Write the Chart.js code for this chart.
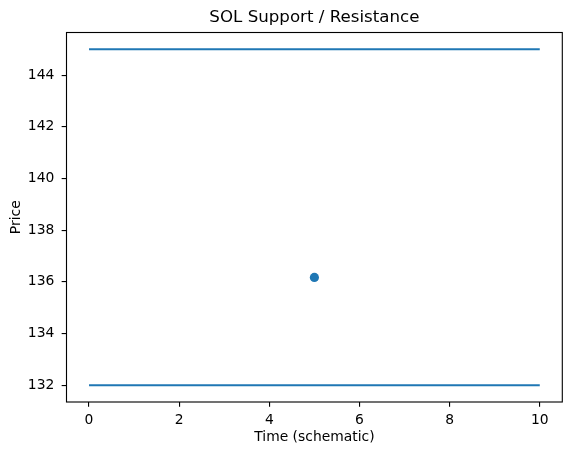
<!DOCTYPE html>
<html>
<head>
<meta charset="utf-8">
<script src="https://cdn.jsdelivr.net/npm/chart.js@4"></script>
<style>
  html, body { margin: 0; padding: 0; background: #fff; }
  #wrap { width: 571px; height: 455px; }
</style>
</head>
<body>
<div id="wrap"><canvas id="c" width="571" height="455"></canvas></div>
<script>
// ---- data ----
const lineX = [0, 10];
const resistance = [145, 145];
const support = [132, 132];
const pointX = [5];
const pointY = [136.17];
const xTicks = [0, 2, 4, 6, 8, 10];
const yTicks = [132, 134, 136, 138, 140, 142, 144];
const xLimits = [-0.5, 10.5];
const yLimits = [131.35, 145.65];

const BLUE = '#1f77b4';
const FONT = 'DejaVu Sans';

const toPts = (xs, ys) => xs.map((x, i) => ({ x: x, y: ys[i] }));

const framePlugin = {
  id: 'frame',
  afterDatasetsDraw(chart) {
    const a = chart.chartArea, ctx = chart.ctx;
    ctx.save();
    ctx.strokeStyle = '#000';
    ctx.lineWidth = 1.11;
    ctx.strokeRect(a.left, a.top, a.right - a.left, a.bottom - a.top);
    ctx.restore();
  }
};

new Chart(document.getElementById('c'), {
  type: 'scatter',
  data: {
    datasets: [
      { data: toPts(lineX, resistance), showLine: true, borderColor: BLUE, borderWidth: 2.08,
        pointRadius: 0, pointHoverRadius: 0, fill: false, order: 3 },
      { data: toPts(lineX, support), showLine: true, borderColor: BLUE, borderWidth: 2.08,
        pointRadius: 0, pointHoverRadius: 0, fill: false, order: 2 },
      { data: toPts(pointX, pointY), showLine: false, backgroundColor: BLUE, borderColor: BLUE,
        borderWidth: 0, pointRadius: 4.6, order: 1 }
    ]
  },
  options: {
    responsive: false,
    animation: false,
    devicePixelRatio: 1,
    layout: { padding: { left: 0, right: 8.7, top: 0, bottom: 0 } },
    plugins: {
      legend: { display: false },
      tooltip: { enabled: false },
      title: {
        display: true,
        fullSize: false,
        text: 'SOL Support / Resistance',
        color: '#000',
        font: { family: FONT, size: 16.67, weight: 'normal', lineHeight: 1.2 },
        padding: { top: 7.5, bottom: 5 }
      }
    },
    scales: {
      x: {
        type: 'linear',
        min: xLimits[0], max: xLimits[1],
        border: { display: false },
        grid: { drawOnChartArea: false, drawTicks: true, tickLength: 4.86, color: '#000', lineWidth: 1.11 },
        ticks: { color: '#000', font: { family: FONT, size: 13.89 }, padding: 5.5, maxRotation: 0, autoSkip: false },
        title: { display: true, text: 'Time (schematic)', color: '#000',
                 font: { family: FONT, size: 13.89, lineHeight: 1.2 }, padding: { top: 0, bottom: 9.5 } },
        afterBuildTicks(scale) { scale.ticks = xTicks.map(v => ({ value: v })); },
        afterFit(scale) { scale.height = 53; scale.paddingLeft = 0; scale.paddingRight = 0; }
      },
      y: {
        type: 'linear',
        min: yLimits[0], max: yLimits[1],
        border: { display: false },
        grid: { drawOnChartArea: false, drawTicks: true, tickLength: 4.86, color: '#000', lineWidth: 1.11 },
        ticks: { color: '#000', font: { family: FONT, size: 13.89 }, padding: 7.3, autoSkip: false },
        title: { display: true, text: 'Price', color: '#000',
                 font: { family: FONT, size: 13.89, lineHeight: 1.2 }, padding: { top: 7.9, bottom: 0 } },
        afterBuildTicks(scale) { scale.ticks = yTicks.map(v => ({ value: v })); },
        afterFit(scale) { scale.width = 66.5; scale.paddingTop = 0; scale.paddingBottom = 0; }
      }
    }
  },
  plugins: [framePlugin]
});
</script>
</body>
</html>
